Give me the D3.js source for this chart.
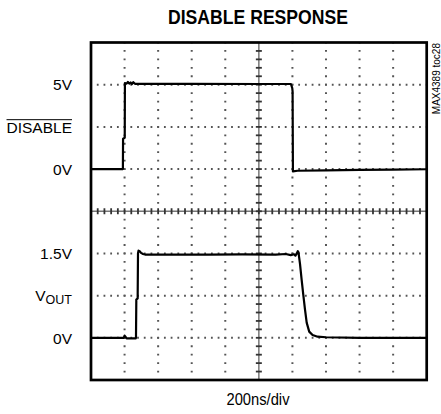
<!DOCTYPE html>
<html>
<head>
<meta charset="utf-8">
<script src="https://cdn.jsdelivr.net/npm/d3@7"></script>
<style>
  html, body { margin: 0; padding: 0; background: #fff; }
  svg { display: block; }
  text { font-family: "Liberation Sans", Arial, sans-serif; fill: #000; }
</style>
</head>
<body>
<svg id="chart" width="441" height="414"></svg>
<script>
// time axis: 200ns/div, 10 divisions
var timeDomain = [0, 2000];

// DISABLE trace (top half), ns / V
var disableT = [0, 190, 191, 201, 202, 212, 220, 228, 236, 244, 252, 262, 280, 600, 1000, 1191, 1199, 1201, 1203, 1230, 1400, 1600, 1800, 2000];
var disableV = [0, 0, 1.8, 1.85, 5.1, 5.06, 5.16, 5.06, 5.13, 5.04, 5.15, 5.05, 5.05, 5.05, 5.04, 5.04, 4.8, 4.6, -0.14, -0.1, -0.08, -0.05, -0.03, -0.01];

// VOUT trace (bottom half), ns / V
var voutT = [0, 195, 200, 205, 212, 266, 268, 270, 278, 280, 283, 290, 298, 310, 322, 500, 700, 900, 1100, 1160, 1190, 1210, 1218, 1226, 1232, 1236, 1245, 1255, 1265, 1275, 1285, 1300, 1320, 1350, 1400, 1600, 1800, 2000];
var voutV = [0, 0, 0.04, 0.02, -0.01, -0.01, 0, 0.68, 0.7, 1.5, 1.55, 1.54, 1.51, 1.49, 1.48, 1.48, 1.48, 1.485, 1.48, 1.49, 1.47, 1.485, 1.46, 1.5, 1.54, 1.52, 1.32, 1.03, 0.76, 0.5, 0.27, 0.11, 0.05, 0.02, 0.01, 0, 0, 0];

// left side labels
var topLabelValues = [5, 2.5, 0];
var topLabelText = ['5V', 'DISABLE', '0V'];
var bottomLabelValues = [1.5, 0.75, 0];
var bottomLabelText = ['1.5V', 'VOUT', '0V'];

var svg = d3.select('#chart'),
    plotL = 91, plotR = 426.7, plotT = 42.5, plotB = 380, // рамка экрана
    xDivs = 10, yDivs = 8, minor = 5;

var x = d3.scaleLinear().domain(timeDomain).range([plotL, plotR]);
var xDiv = d3.scaleLinear().domain([0, xDivs]).range([plotL, plotR]);
var yDiv = d3.scaleLinear().domain([0, yDivs]).range([plotT, plotB]);
// top trace: 2.5V/div, 0V on division 3
var yTop = d3.scaleLinear().domain([0, 5]).range([yDiv(3), yDiv(1)]);
// bottom trace: 0.75V/div, 0V on division 7
var yBot = d3.scaleLinear().domain([0, 1.5]).range([yDiv(7), yDiv(5)]);

var sx = (plotR - plotL) / xDivs / minor, // minor step horizontally
    sy = (plotB - plotT) / yDivs / minor; // minor step vertically

// dotted grid
var g = svg.append('g');
g.selectAll('line.h').data(d3.range(1, yDivs).filter(function (d) { return d !== yDivs / 2; }))
  .enter().append('line').attr('class', 'h')
  .attr('x1', plotL).attr('x2', plotR)
  .attr('y1', function (d) { return yDiv(d); }).attr('y2', function (d) { return yDiv(d); })
  .attr('stroke', '#555').attr('stroke-width', 2)
  .attr('stroke-dasharray', '1.8 ' + (sx - 1.8)).attr('stroke-dashoffset', 0.9);
g.selectAll('line.v').data(d3.range(1, xDivs).filter(function (d) { return d !== xDivs / 2; }))
  .enter().append('line').attr('class', 'v')
  .attr('y1', plotT).attr('y2', plotB)
  .attr('x1', function (d) { return xDiv(d); }).attr('x2', function (d) { return xDiv(d); })
  .attr('stroke', '#555').attr('stroke-width', 2)
  .attr('stroke-dasharray', '1.8 ' + (sy - 1.8)).attr('stroke-dashoffset', 0.9);

// center axes with minor ticks
var cx = xDiv(xDivs / 2), cy = yDiv(yDivs / 2);
g.append('line').attr('x1', plotL).attr('x2', plotR).attr('y1', cy).attr('y2', cy)
  .attr('stroke', '#777').attr('stroke-width', 1.5);
g.append('line').attr('x1', cx).attr('x2', cx).attr('y1', plotT).attr('y2', plotB)
  .attr('stroke', '#777').attr('stroke-width', 1.5);
g.selectAll('line.tx').data(d3.range(1, xDivs * minor))
  .enter().append('line').attr('class', 'tx')
  .attr('x1', function (d) { return plotL + d * sx; }).attr('x2', function (d) { return plotL + d * sx; })
  .attr('y1', cy - 3).attr('y2', cy + 3)
  .attr('stroke', '#333').attr('stroke-width', 1.8);
g.selectAll('line.ty').data(d3.range(1, yDivs * minor))
  .enter().append('line').attr('class', 'ty')
  .attr('y1', function (d) { return plotT + d * sy; }).attr('y2', function (d) { return plotT + d * sy; })
  .attr('x1', cx - 3).attr('x2', cx + 3)
  .attr('stroke', '#333').attr('stroke-width', 1.8);

// traces
var lineTop = d3.line().x(function (d, i) { return x(disableT[i]); }).y(function (d) { return yTop(d); });
var lineBot = d3.line().x(function (d, i) { return x(voutT[i]); }).y(function (d) { return yBot(d); });
svg.append('path').attr('d', lineTop(disableV))
  .attr('fill', 'none').attr('stroke', '#000').attr('stroke-width', 2.2).attr('stroke-linejoin', 'round');
svg.append('path').attr('d', lineBot(voutV))
  .attr('fill', 'none').attr('stroke', '#000').attr('stroke-width', 2.2).attr('stroke-linejoin', 'round');

// frame
svg.append('rect').attr('x', plotL).attr('y', plotT)
  .attr('width', plotR - plotL).attr('height', plotB - plotT)
  .attr('fill', 'none').attr('stroke', '#000').attr('stroke-width', 2.7);

// title
svg.append('text').attr('x', 258).attr('y', 24).attr('text-anchor', 'middle')
  .attr('font-size', 20).attr('font-weight', 'bold')
  .attr('textLength', 180).attr('lengthAdjust', 'spacingAndGlyphs')
  .text('DISABLE RESPONSE');

// x label
svg.append('text').attr('x', 258).attr('y', 405).attr('text-anchor', 'middle')
  .attr('font-size', 16).attr('textLength', 63).attr('lengthAdjust', 'spacingAndGlyphs')
  .text('200ns/div');

// left labels
topLabelValues.forEach(function (v, i) {
  var t = svg.append('text').attr('x', 72).attr('y', yTop(v) + 5.8)
    .attr('text-anchor', 'end').attr('font-size', 15.5).text(topLabelText[i]);
  if (topLabelText[i] === 'DISABLE') {
    var b = t.node().getBBox();
    svg.append('line').attr('x1', b.x).attr('x2', b.x + b.width)
      .attr('y1', b.y + 1).attr('y2', b.y + 1)
      .attr('stroke', '#000').attr('stroke-width', 1);
  }
});
bottomLabelValues.forEach(function (v, i) {
  var t = svg.append('text').attr('x', 72).attr('y', yBot(v) + 5.8)
    .attr('text-anchor', 'end').attr('font-size', 15.5);
  if (bottomLabelText[i] === 'VOUT') {
    t.append('tspan').text('V');
    t.append('tspan').attr('font-size', 12.5).attr('dy', 3).text('OUT');
  } else {
    t.text(bottomLabelText[i]);
  }
});

// figure id on the right edge
svg.append('text').attr('transform', 'translate(440,43) rotate(-90)')
  .attr('text-anchor', 'end').attr('font-size', 10).text('MAX4389 toc28');
</script>
</body>
</html>
